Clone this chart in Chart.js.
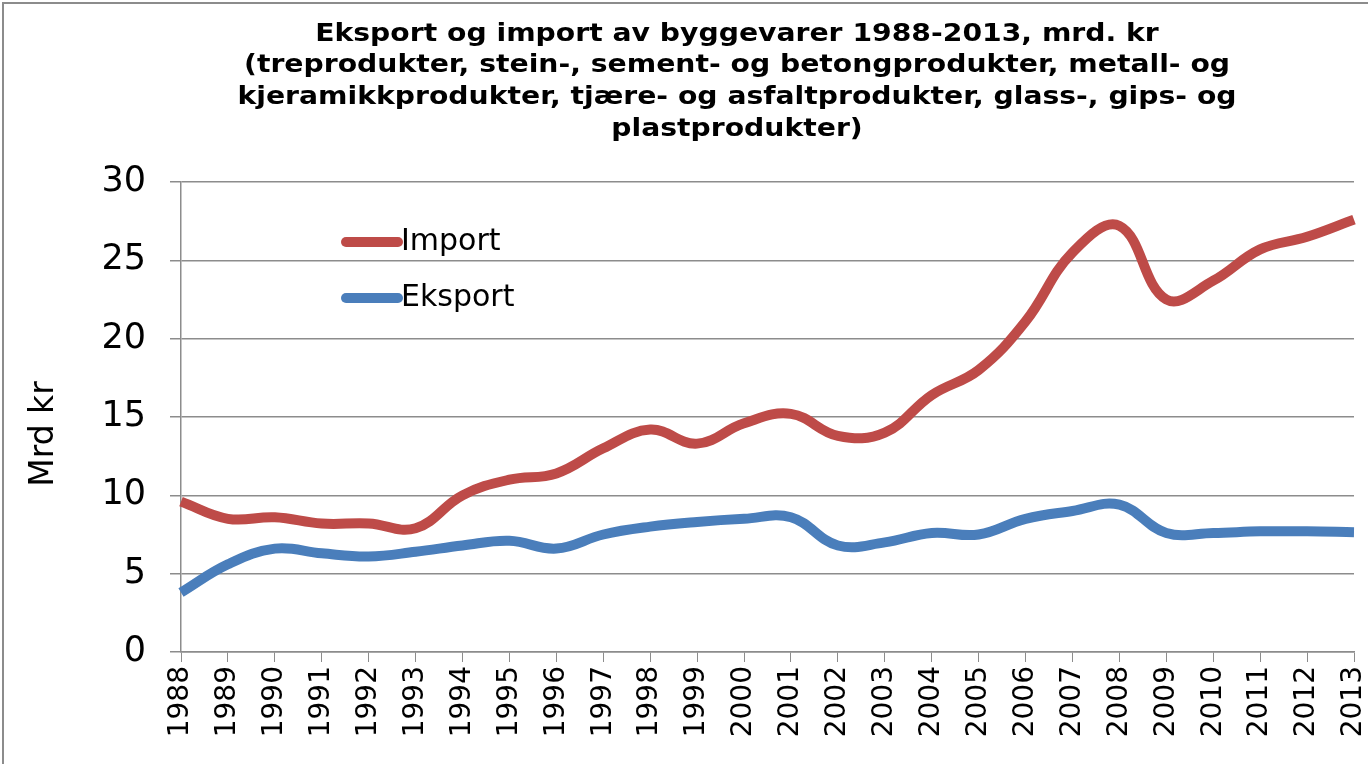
<!DOCTYPE html>
<html>
<head>
<meta charset="utf-8">
<script src="https://cdn.jsdelivr.net/npm/chart.js@4/dist/chart.umd.min.js"></script>
<style>
  html, body { margin: 0; padding: 0; background: #fff; }
  #wrap { width: 1368px; height: 764px; position: relative; }
</style>
</head>
<body>
<div id="wrap"><canvas id="chart" width="1368" height="764"></canvas></div>
<script>
const years = ['1988','1989','1990','1991','1992','1993','1994','1995','1996','1997','1998','1999','2000',
  '2001','2002','2003','2004','2005','2006','2007','2008','2009','2010','2011','2012','2013'];
const importValues = [9.6, 8.5, 8.6, 8.2, 8.2, 7.9, 10.0, 11.0, 11.4, 13.0, 14.2, 13.3, 14.6,
  15.2, 13.8, 14.0, 16.4, 18.0, 21.1, 25.5, 27.2, 22.5, 23.7, 25.7, 26.5, 27.6];
const eksportValues = [3.8, 5.6, 6.6, 6.3, 6.1, 6.4, 6.8, 7.1, 6.6, 7.5, 8.0, 8.3, 8.5,
  8.6, 6.8, 7.0, 7.6, 7.5, 8.5, 9.0, 9.4, 7.6, 7.6, 7.7, 7.7, 7.65];
const yTicks = [0, 5, 10, 15, 20, 25, 30];
const titleLines = [
  'Eksport og import av byggevarer 1988-2013, mrd. kr',
  '(treprodukter, stein-, sement- og betongprodukter, metall- og',
  'kjeramikkprodukter, tjære- og asfaltprodukter, glass-, gips- og',
  'plastprodukter)'
];
const yTitle = 'Mrd kr';

const FONT = '"DejaVu Sans", Verdana, sans-serif';

// title, frame, y title and in-plot legend drawn by hand, like the original
const extras = {
  id: 'extras',
  afterDraw(chart) {
    const ctx = chart.ctx;
    ctx.save();
    ctx.strokeStyle = '#8c8c8c';
    ctx.lineWidth = 2;
    ctx.strokeRect(3, 3, 1380, 780);

    ctx.fillStyle = '#000';
    ctx.textAlign = 'center';
    ctx.textBaseline = 'middle';
    ctx.save();
    ctx.translate(737, 0);
    ctx.scale(1.13, 1);
    ctx.font = 'bold 25px ' + FONT;
    titleLines.forEach((t, i) => ctx.fillText(t, 0, 34 + i * 31.7));
    ctx.restore();

    ctx.save();
    ctx.translate(44, 434);
    ctx.rotate(-Math.PI / 2);
    ctx.font = '33px ' + FONT;
    ctx.fillText(yTitle, 0, 0);
    ctx.restore();

    const items = [chart.data.datasets[1], chart.data.datasets[0]];
    ctx.font = '30px ' + FONT;
    ctx.textAlign = 'left';
    items.forEach((ds, i) => {
      const y = 242 + i * 56;
      ctx.strokeStyle = ds.borderColor;
      ctx.lineWidth = 10;
      ctx.lineCap = 'round';
      ctx.beginPath();
      ctx.moveTo(346, y);
      ctx.lineTo(398, y);
      ctx.stroke();
      ctx.fillStyle = '#000';
      ctx.fillText(ds.label, 401, y);
    });
    ctx.restore();
  }
};

new Chart(document.getElementById('chart'), {
  type: 'line',
  data: {
    labels: years,
    datasets: [
      {
        label: 'Eksport',
        data: eksportValues,
        borderColor: '#4A7EBB',
        backgroundColor: '#4A7EBB',
        borderWidth: 10,
        pointRadius: 0,
        tension: 0.4
      },
      {
        label: 'Import',
        data: importValues,
        borderColor: '#BE4B48',
        backgroundColor: '#BE4B48',
        borderWidth: 10,
        pointRadius: 0,
        tension: 0.4
      }
    ]
  },
  options: {
    responsive: false,
    animation: false,
    layout: { padding: { top: 182, right: 14, left: 0, bottom: 0 } },
    plugins: {
      legend: { display: false },
      title: { display: false },
      tooltip: { enabled: false }
    },
    scales: {
      x: {
        offset: false,
        grid: { drawOnChartArea: false, drawTicks: true, tickLength: 10, color: '#8c8c8c' },
        border: { color: '#8c8c8c', width: 1.5 },
        ticks: {
          minRotation: 90, maxRotation: 90, autoSkip: false, padding: 4,
          color: '#000', font: { family: FONT, size: 28 }
        },
        afterFit(scale) {
          scale.height = 112;
          scale.paddingLeft = 0;
          scale.paddingRight = 0;
        }
      },
      y: {
        min: 0, max: 30,
        afterBuildTicks(scale) { scale.ticks = yTicks.map(v => ({ value: v })); },
        grid: { color: '#8c8c8c', lineWidth: 1.5, tickLength: 11 },
        border: { color: '#8c8c8c', width: 1.5 },
        ticks: { padding: 24, color: '#000', font: { family: FONT, size: 35 } },
        afterFit(scale) { scale.width = 181; }
      }
    }
  },
  plugins: [extras]
});
</script>
</body>
</html>
